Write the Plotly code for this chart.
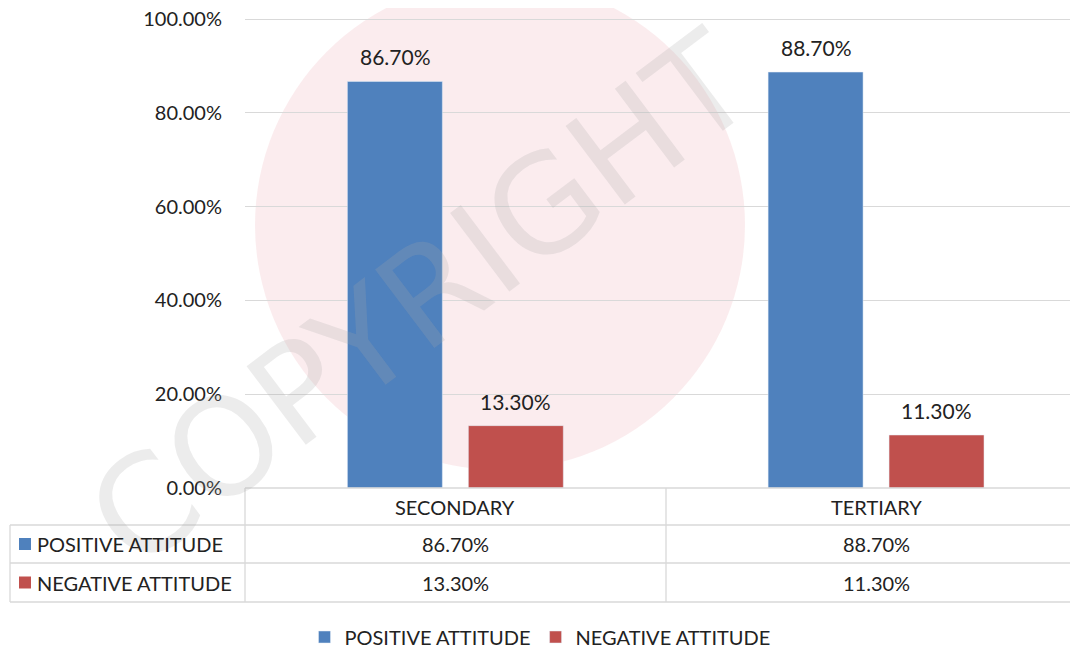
import plotly.graph_objects as go

categories = ["SECONDARY", "TERTIARY"]
series_names = ["POSITIVE ATTITUDE", "NEGATIVE ATTITUDE"]
positive = [0.867, 0.887]
negative = [0.133, 0.113]
colors = ["#4F81BD", "#C0504D"]

# page has an 8px body margin, so the figure is 8px smaller than the window
OFF = 8
W, H = 1078 - OFF, 648 - OFF
L, R, T, B = 245 - OFF, 0, 17 - OFF, 160
PW, PH = W - L - R, H - T - B

def px(x):  # reference screen pixel -> paper
    return (x - OFF - L) / PW

def py(y):
    return (H - B - (y - OFF)) / PH

FONT = "Lato"
TXT = "#222"
fig = go.Figure()
annotations = []
for i, (name, vals, col) in enumerate(zip(series_names, [positive, negative], colors)):
    fig.add_trace(go.Bar(x=categories, y=vals, name=name, marker_color=col))
    for c, v in zip(categories, vals):
        annotations.append(dict(text=f"{v*100:.2f}%", xref="x", yref="y", x=c, y=v,
                                xshift=(-60 if i == 0 else 60), yshift=10,
                                yanchor="bottom", showarrow=False,
                                font=dict(size=21, family=FONT, color=TXT)))

shapes = []
# watermark
shapes.append(dict(type="circle", xref="paper", yref="paper", layer="below",
                   x0=px(255), x1=px(745), y0=py(470), y1=py(-20),
                   fillcolor="rgba(235,160,170,0.20)", line=dict(width=0)))
annotations.append(dict(text="COPYRIGHT", xref="paper", yref="paper",
                        x=px(420), y=py(300), showarrow=False, textangle=-37,
                        xanchor="center", yanchor="middle",
                        font=dict(size=135, family="DejaVu Sans", color="rgba(170,170,170,0.22)")))

# data table lines
line = dict(color="#D9D9D9", width=1.3)
shapes += [
    dict(type="line", xref="paper", yref="paper", x0=px(245), x1=1, y0=py(488), y1=py(488), line=line),
    dict(type="line", xref="paper", yref="paper", x0=px(10), x1=1, y0=py(525), y1=py(525), line=line),
    dict(type="line", xref="paper", yref="paper", x0=px(10), x1=1, y0=py(563), y1=py(563), line=line),
    dict(type="line", xref="paper", yref="paper", x0=px(10), x1=1, y0=py(602), y1=py(602), line=line),
    dict(type="line", xref="paper", yref="paper", x0=px(10), x1=px(10), y0=py(525), y1=py(602), line=line),
    dict(type="line", xref="paper", yref="paper", x0=px(245), x1=px(245), y0=py(488), y1=py(602), line=line),
    dict(type="line", xref="paper", yref="paper", x0=px(666), x1=px(666), y0=py(488), y1=py(602), line=line),
]
row_y = [py(506.5), py(544), py(582.5)]
for c in categories:
    annotations.append(dict(text=c, xref="x", yref="paper", x=c, y=row_y[0], showarrow=False,
                            yanchor="middle", font=dict(size=20, family=FONT, color=TXT)))
for r, (name, vals, col) in enumerate(zip(series_names, [positive, negative], colors)):
    yy = row_y[r + 1]
    shapes.append(dict(type="rect", xref="paper", yref="paper", x0=px(19), x1=px(31),
                       y0=yy - 6 / PH, y1=yy + 6 / PH, fillcolor=col, line=dict(width=0)))
    annotations.append(dict(text=name, xref="paper", yref="paper", x=px(35), y=yy, xanchor="left",
                            yanchor="middle", showarrow=False,
                            font=dict(size=20, family=FONT, color=TXT)))
    for c, v in zip(categories, vals):
        annotations.append(dict(text=f"{v*100:.2f}%", xref="x", yref="paper", x=c, y=yy,
                                yanchor="middle", showarrow=False,
                                font=dict(size=20, family=FONT, color=TXT)))

fig.update_layout(
    width=W, height=H, margin=dict(l=L, r=R, t=T, b=B, autoexpand=False),
    paper_bgcolor="white", plot_bgcolor="white",
    barmode="group", bargap=0.425, bargroupgap=0.215,
    font=dict(family=FONT, size=20, color=TXT),
    xaxis=dict(range=[-0.5, 1.48], showticklabels=False, showgrid=False, zeroline=False,
               showline=False, ticks="", automargin=False),
    yaxis=dict(range=[0, 1.0045], tickformat=".2%", dtick=0.2, showgrid=True, gridcolor="#D9D9D9",
               gridwidth=1.3, zeroline=False, showline=False, ticks="outside", ticklen=18,
               tickcolor="rgba(0,0,0,0)", automargin=False, ticklabeloverflow="allow",
               tickfont=dict(size=20, family=FONT, color=TXT)),
    showlegend=True,
    legend=dict(orientation="h", x=px(540), xanchor="center", y=py(637), yanchor="middle",
                font=dict(size=20, family=FONT, color=TXT), itemwidth=30, traceorder="normal"),
    shapes=shapes, annotations=annotations,
)
fig.write_html("out.html")
